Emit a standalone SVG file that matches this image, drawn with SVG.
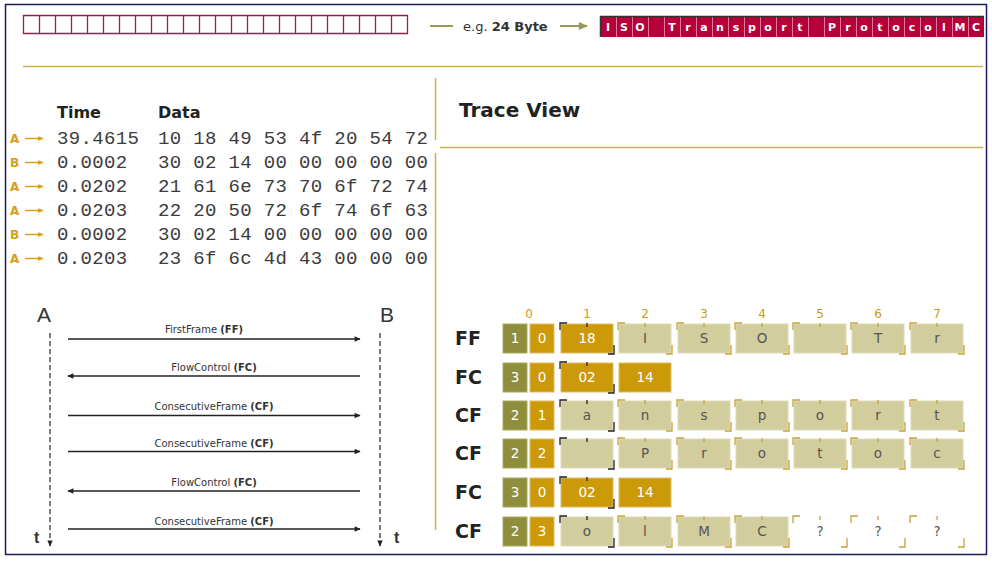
<svg xmlns="http://www.w3.org/2000/svg" width="992" height="561" viewBox="0 0 992 561">
<defs>
<marker id="ah" viewBox="0 0 10 10" refX="9" refY="5" markerWidth="7" markerHeight="6" markerUnits="userSpaceOnUse" orient="auto"><path d="M0,0.5 L10,5 L0,9.5 z" fill="#222"/></marker>
<marker id="ahO" viewBox="0 0 10 10" refX="9" refY="5" markerWidth="10" markerHeight="9" markerUnits="userSpaceOnUse" orient="auto"><path d="M0,0.5 L10,5 L0,9.5 z" fill="#9a9a58"/></marker>
<marker id="ahG" viewBox="0 0 10 10" refX="9" refY="5" markerWidth="6" markerHeight="6" markerUnits="userSpaceOnUse" orient="auto"><path d="M0,1 L10,5 L0,9 z" fill="#d4a017"/></marker>
<path id="brk" d="M-1,6 V-1 H6 M26,-1 v4 M53,21 V30 H47"/>
</defs>
<style>
.mono{font-family:"Liberation Mono","DejaVu Sans Mono",monospace;font-size:19px;letter-spacing:0.35px;fill:#3c3c3c}
.hdr{font-family:"DejaVu Sans",Verdana,sans-serif;font-weight:bold;font-size:16px;fill:#222}
.lab{font-family:"DejaVu Sans",Verdana,sans-serif;font-weight:bold;font-size:12px;fill:#d4a017}
.garr{stroke:#d4a017;stroke-width:1.5;marker-end:url(#ahG)}
.gold{stroke:#cfae4f;stroke-width:1.5;fill:none}
.seq{stroke:#222;stroke-width:1.4;fill:none;marker-end:url(#ah)}
.life{stroke:#222;stroke-width:1.2;stroke-dasharray:5,3;fill:none;marker-end:url(#ah)}
.msg{font-family:"DejaVu Sans",Verdana,sans-serif;font-size:10px;fill:#333;text-anchor:middle}
.big{font-family:"Liberation Sans",Arial,sans-serif;font-size:21px;fill:#333}
.tt{font-family:"Liberation Sans",Arial,sans-serif;font-size:16px;font-weight:bold;fill:#333}
.rl{font-family:"DejaVu Sans",Verdana,sans-serif;font-weight:bold;font-size:19px;fill:#222}
.cn{font-family:"DejaVu Sans",Verdana,sans-serif;font-size:12px;fill:#c89a1a;text-anchor:middle}
.ol{fill:#8e8e3c;stroke:#a9a965;stroke-width:1}
.gd{fill:#cc9a08;stroke:#ddbb66;stroke-width:1}
.kh{fill:#d1cd9d;stroke:#dedbb8;stroke-width:1}
.wt{fill:#fff}
.ct{font-family:"DejaVu Sans",Verdana,sans-serif;font-size:13.5px;fill:#fff;text-anchor:middle}
.kt{font-family:"DejaVu Sans",Verdana,sans-serif;font-size:13.5px;fill:#555;text-anchor:middle}
.bg{fill:none;stroke:#c9a13a;stroke-width:1.3}
.bd{fill:none;stroke:#222;stroke-width:1.3}
.rs{font-family:"DejaVu Sans",Verdana,sans-serif;font-weight:bold;font-size:11px;fill:#fff;text-anchor:middle}
</style>
<rect x="0" y="0" width="992" height="561" fill="#fff"/>
<rect x="5.5" y="4.5" width="981" height="550" fill="#fff" stroke="#1a1a5e" stroke-width="1.5"/>

<g id="empty-bytes">
<path d="M23.5,15.5 h384 v18 h-384 z M39.5,15.5v18 M55.5,15.5v18 M71.5,15.5v18 M87.5,15.5v18 M103.5,15.5v18 M119.5,15.5v18 M135.5,15.5v18 M151.5,15.5v18 M167.5,15.5v18 M183.5,15.5v18 M199.5,15.5v18 M215.5,15.5v18 M231.5,15.5v18 M247.5,15.5v18 M263.5,15.5v18 M279.5,15.5v18 M295.5,15.5v18 M311.5,15.5v18 M327.5,15.5v18 M343.5,15.5v18 M359.5,15.5v18 M375.5,15.5v18 M391.5,15.5v18" fill="#fff" stroke="#8b2252" stroke-width="1.3"/>
</g>

<g id="size-label">
<line x1="430" y1="26" x2="453" y2="26" stroke="#9a9a58" stroke-width="2"/>
<text x="463" y="31" font-family="DejaVu Sans, Verdana, sans-serif" font-size="13" fill="#333">e.g. <tspan font-weight="bold">24 Byte</tspan></text>
<line x1="560" y1="26" x2="587" y2="26" stroke="#9a9a58" stroke-width="2" marker-end="url(#ahO)"/>
</g>

<g id="filled-bytes">
<rect x="600" y="16" width="384" height="21" fill="#b5003a"/>
<path d="M616.5,17v20 M632.5,17v20 M648.5,17v20 M664.5,17v20 M680.5,17v20 M696.5,17v20 M712.5,17v20 M728.5,17v20 M744.5,17v20 M760.5,17v20 M776.5,17v20 M792.5,17v20 M808.5,17v20 M824.5,17v20 M840.5,17v20 M856.5,17v20 M872.5,17v20 M888.5,17v20 M904.5,17v20 M920.5,17v20 M936.5,17v20 M952.5,17v20 M968.5,17v20" stroke="#e27aa0" stroke-width="1"/>
<path d="M600.5,37 V16.5 H984" stroke="#333" stroke-width="1.5" fill="none"/>
<text class="rs" y="30.5"><tspan x="608">I</tspan><tspan x="624">S</tspan><tspan x="640">O</tspan><tspan x="672">T</tspan><tspan x="688">r</tspan><tspan x="704">a</tspan><tspan x="720">n</tspan><tspan x="736">s</tspan><tspan x="752">p</tspan><tspan x="768">o</tspan><tspan x="784">r</tspan><tspan x="800">t</tspan><tspan x="832">P</tspan><tspan x="848">r</tspan><tspan x="864">o</tspan><tspan x="880">t</tspan><tspan x="896">o</tspan><tspan x="912">c</tspan><tspan x="928">o</tspan><tspan x="944">l</tspan><tspan x="960">M</tspan><tspan x="976">C</tspan></text>
</g>

<g id="dividers">
<path class="gold" d="M23,66.5 H983"/>
<path class="gold" d="M435.5,78 V140 M435.5,153 V530"/>
<path class="gold" d="M440,147.5 H983"/>
</g>

<g id="trace-title">
<text x="459" y="117" font-family="DejaVu Sans, Verdana, sans-serif" font-weight="bold" font-size="20" fill="#222">Trace View</text>
</g>

<g id="trace-table">
<text class="hdr" x="57" y="118">Time</text>
<text class="hdr" x="158" y="118">Data</text>
<text class="lab" x="10" y="143">A</text><line class="garr" x1="25" y1="138.5" x2="43" y2="138.5"/>
<text class="mono" x="57" y="144">39.4615</text><text class="mono" x="158" y="144">10 18 49 53 4f 20 54 72</text>
<text class="lab" x="10" y="167">B</text><line class="garr" x1="25" y1="162.5" x2="43" y2="162.5"/>
<text class="mono" x="57" y="168">0.0002</text><text class="mono" x="158" y="168">30 02 14 00 00 00 00 00</text>
<text class="lab" x="10" y="191">A</text><line class="garr" x1="25" y1="186.5" x2="43" y2="186.5"/>
<text class="mono" x="57" y="192">0.0202</text><text class="mono" x="158" y="192">21 61 6e 73 70 6f 72 74</text>
<text class="lab" x="10" y="215">A</text><line class="garr" x1="25" y1="210.5" x2="43" y2="210.5"/>
<text class="mono" x="57" y="216">0.0203</text><text class="mono" x="158" y="216">22 20 50 72 6f 74 6f 63</text>
<text class="lab" x="10" y="239">B</text><line class="garr" x1="25" y1="234.5" x2="43" y2="234.5"/>
<text class="mono" x="57" y="240">0.0002</text><text class="mono" x="158" y="240">30 02 14 00 00 00 00 00</text>
<text class="lab" x="10" y="263">A</text><line class="garr" x1="25" y1="258.5" x2="43" y2="258.5"/>
<text class="mono" x="57" y="264">0.0203</text><text class="mono" x="158" y="264">23 6f 6c 4d 43 00 00 00</text>
</g>

<g id="node-A">
<text class="big" x="37" y="322">A</text>
<text class="tt" x="34" y="543">t</text>
</g>
<g id="node-B">
<text class="big" x="380" y="322">B</text>
<text class="tt" x="394" y="543">t</text>
</g>

<g id="connectors">
<path class="life" d="M50,333 V546"/>
<path class="life" d="M380,333 V546"/>
<path class="seq" d="M68,339 H360"/>
<path class="seq" d="M360,376 H68"/>
<path class="seq" d="M68,415.5 H360"/>
<path class="seq" d="M68,451.5 H360"/>
<path class="seq" d="M360,491 H68"/>
<path class="seq" d="M68,529 H360"/>
<text class="msg" x="204" y="333">FirstFrame <tspan font-weight="bold">(FF)</tspan></text>
<text class="msg" x="214" y="371">FlowControl <tspan font-weight="bold">(FC)</tspan></text>
<text class="msg" x="214" y="410">ConsecutiveFrame <tspan font-weight="bold">(CF)</tspan></text>
<text class="msg" x="214" y="447">ConsecutiveFrame <tspan font-weight="bold">(CF)</tspan></text>
<text class="msg" x="214" y="486">FlowControl <tspan font-weight="bold">(FC)</tspan></text>
<text class="msg" x="214" y="525">ConsecutiveFrame <tspan font-weight="bold">(CF)</tspan></text>
</g>

<g id="col-numbers">
<text class="cn" x="529" y="318">0</text><text class="cn" x="587" y="318">1</text><text class="cn" x="645" y="318">2</text><text class="cn" x="704" y="318">3</text><text class="cn" x="762" y="318">4</text><text class="cn" x="820" y="318">5</text><text class="cn" x="878" y="318">6</text><text class="cn" x="937" y="318">7</text>
</g>

<g id="row-ff">
<text class="rl" x="455" y="345">FF</text>
<rect class="ol" x="503" y="324" width="24" height="29"/><text class="ct" x="515" y="343">1</text>
<rect class="gd" x="530" y="324" width="24" height="29"/><text class="ct" x="542" y="343">0</text>
<rect class="gd" x="561" y="324" width="52" height="29"/><text class="ct" x="587" y="343">18</text><use href="#brk" x="561" y="324" class="bd"/>
<rect class="kh" x="619" y="324" width="52" height="29"/><text class="kt" x="645" y="343">I</text><use href="#brk" x="619" y="324" class="bg"/>
<rect class="kh" x="678" y="324" width="52" height="29"/><text class="kt" x="704" y="343">S</text><use href="#brk" x="678" y="324" class="bg"/>
<rect class="kh" x="736" y="324" width="52" height="29"/><text class="kt" x="762" y="343">O</text><use href="#brk" x="736" y="324" class="bg"/>
<rect class="kh" x="794" y="324" width="52" height="29"/><use href="#brk" x="794" y="324" class="bg"/>
<rect class="kh" x="852" y="324" width="52" height="29"/><text class="kt" x="878" y="343">T</text><use href="#brk" x="852" y="324" class="bg"/>
<rect class="kh" x="911" y="324" width="52" height="29"/><text class="kt" x="937" y="343">r</text><use href="#brk" x="911" y="324" class="bg"/>
</g>

<g id="row-fc1">
<text class="rl" x="455" y="384">FC</text>
<rect class="ol" x="503" y="363" width="24" height="29"/><text class="ct" x="515" y="382">3</text>
<rect class="gd" x="530" y="363" width="24" height="29"/><text class="ct" x="542" y="382">0</text>
<rect class="gd" x="561" y="363" width="52" height="29"/><text class="ct" x="587" y="382">02</text><use href="#brk" x="561" y="363" class="bd"/>
<rect class="gd" x="619" y="363" width="52" height="29"/><text class="ct" x="645" y="382">14</text>
</g>

<g id="row-cf1">
<text class="rl" x="455" y="422">CF</text>
<rect class="ol" x="503" y="401" width="24" height="29"/><text class="ct" x="515" y="420">2</text>
<rect class="gd" x="530" y="401" width="24" height="29"/><text class="ct" x="542" y="420">1</text>
<rect class="kh" x="561" y="401" width="52" height="29"/><text class="kt" x="587" y="420">a</text><use href="#brk" x="561" y="401" class="bd"/>
<rect class="kh" x="619" y="401" width="52" height="29"/><text class="kt" x="645" y="420">n</text><use href="#brk" x="619" y="401" class="bg"/>
<rect class="kh" x="678" y="401" width="52" height="29"/><text class="kt" x="704" y="420">s</text><use href="#brk" x="678" y="401" class="bg"/>
<rect class="kh" x="736" y="401" width="52" height="29"/><text class="kt" x="762" y="420">p</text><use href="#brk" x="736" y="401" class="bg"/>
<rect class="kh" x="794" y="401" width="52" height="29"/><text class="kt" x="820" y="420">o</text><use href="#brk" x="794" y="401" class="bg"/>
<rect class="kh" x="852" y="401" width="52" height="29"/><text class="kt" x="878" y="420">r</text><use href="#brk" x="852" y="401" class="bg"/>
<rect class="kh" x="911" y="401" width="52" height="29"/><text class="kt" x="937" y="420">t</text><use href="#brk" x="911" y="401" class="bg"/>
</g>

<g id="row-cf2">
<text class="rl" x="455" y="460">CF</text>
<rect class="ol" x="503" y="439" width="24" height="29"/><text class="ct" x="515" y="458">2</text>
<rect class="gd" x="530" y="439" width="24" height="29"/><text class="ct" x="542" y="458">2</text>
<rect class="kh" x="561" y="439" width="52" height="29"/><use href="#brk" x="561" y="439" class="bd"/>
<rect class="kh" x="619" y="439" width="52" height="29"/><text class="kt" x="645" y="458">P</text><use href="#brk" x="619" y="439" class="bg"/>
<rect class="kh" x="678" y="439" width="52" height="29"/><text class="kt" x="704" y="458">r</text><use href="#brk" x="678" y="439" class="bg"/>
<rect class="kh" x="736" y="439" width="52" height="29"/><text class="kt" x="762" y="458">o</text><use href="#brk" x="736" y="439" class="bg"/>
<rect class="kh" x="794" y="439" width="52" height="29"/><text class="kt" x="820" y="458">t</text><use href="#brk" x="794" y="439" class="bg"/>
<rect class="kh" x="852" y="439" width="52" height="29"/><text class="kt" x="878" y="458">o</text><use href="#brk" x="852" y="439" class="bg"/>
<rect class="kh" x="911" y="439" width="52" height="29"/><text class="kt" x="937" y="458">c</text><use href="#brk" x="911" y="439" class="bg"/>
</g>

<g id="row-fc2">
<text class="rl" x="455" y="499">FC</text>
<rect class="ol" x="503" y="478" width="24" height="29"/><text class="ct" x="515" y="497">3</text>
<rect class="gd" x="530" y="478" width="24" height="29"/><text class="ct" x="542" y="497">0</text>
<rect class="gd" x="561" y="478" width="52" height="29"/><text class="ct" x="587" y="497">02</text><use href="#brk" x="561" y="478" class="bd"/>
<rect class="gd" x="619" y="478" width="52" height="29"/><text class="ct" x="645" y="497">14</text>
</g>

<g id="row-cf3">
<text class="rl" x="455" y="538">CF</text>
<rect class="ol" x="503" y="517" width="24" height="29"/><text class="ct" x="515" y="536">2</text>
<rect class="gd" x="530" y="517" width="24" height="29"/><text class="ct" x="542" y="536">3</text>
<rect class="kh" x="561" y="517" width="52" height="29"/><text class="kt" x="587" y="536">o</text><use href="#brk" x="561" y="517" class="bd"/>
<rect class="kh" x="619" y="517" width="52" height="29"/><text class="kt" x="645" y="536">l</text><use href="#brk" x="619" y="517" class="bg"/>
<rect class="kh" x="678" y="517" width="52" height="29"/><text class="kt" x="704" y="536">M</text><use href="#brk" x="678" y="517" class="bg"/>
<rect class="kh" x="736" y="517" width="52" height="29"/><text class="kt" x="762" y="536">C</text><use href="#brk" x="736" y="517" class="bg"/>
<rect class="wt" x="794" y="517" width="52" height="29"/><text class="kt" x="820" y="536">?</text><use href="#brk" x="794" y="517" class="bg"/>
<rect class="wt" x="852" y="517" width="52" height="29"/><text class="kt" x="878" y="536">?</text><use href="#brk" x="852" y="517" class="bg"/>
<rect class="wt" x="911" y="517" width="52" height="29"/><text class="kt" x="937" y="536">?</text><use href="#brk" x="911" y="517" class="bg"/>
</g>
</svg>
